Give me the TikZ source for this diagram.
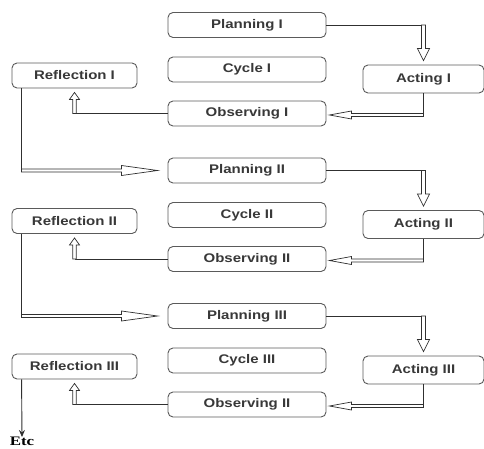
\documentclass[tikz,border=0pt]{standalone}
\usepackage{fontspec}
\usepackage{tikz}
\usetikzlibrary{calc}
\usetikzlibrary{arrows.meta}
\newfontfamily\boxfont[FakeStretch=1.2]{Liberation Sans}
\newfontfamily\etcfont[FakeStretch=1.3]{Liberation Serif}
\definecolor{boxgray}{HTML}{5A5A5A}
\definecolor{textgray}{HTML}{383838}
\definecolor{linegray}{HTML}{303030}

% hollow double arrow: from, to, shaft half width, head half width, head length
\newcommand{\hollowarrow}[5]{%
  \coordinate (ha-c) at ($(#2)!#5!(#1)$);
  \filldraw[arrowline,fill=white] ($(#1)!#3!90:(#2)$) -- ($(ha-c)!#3!90:(#2)$)
    -- ($(ha-c)!#4!90:(#2)$) -- (#2) -- ($(ha-c)!#4!-90:(#2)$)
    -- ($(ha-c)!#3!-90:(#2)$) -- ($(#1)!#3!-90:(#2)$) -- cycle;
}

\tikzset{
  stagebox/.style={draw=boxgray, line width=0.9pt, rounded corners=5pt, fill=white,
    minimum height=25pt, inner sep=0pt, text=textgray,
    font=\boxfont\bfseries\fontsize{12.5}{14}\selectfont},
  midbox/.style={stagebox, minimum width=158pt},
  reflbox/.style={stagebox, minimum width=125pt},
  actbox/.style={stagebox, minimum width=121pt, minimum height=28pt},
  arrowline/.style={draw=linegray, line width=0.7pt},
}

\begin{document}
\begin{tikzpicture}[x=1pt,y=-1pt]
  \useasboundingbox (0,0) rectangle (484,449);

  \foreach \i/\r/\o in {1/I/I, 2/II/II, 3/III/II}
  {
    \begin{scope}[shift={(0,{145.5*(\i-1)})}]
      \node[midbox]  (plan\i) at (247,25)    {Planning \r};
      \node[midbox]  (cyc\i)  at (247,69.5)  {Cycle \r};
      \node[reflbox] (refl\i) at (74.5,75.5) {Reflection \r};
      \node[actbox]  (act\i)  at (423.5,79)  {Acting \r};
      \node[midbox]  (obs\i)  at (247,113.5) {Observing \o};
    \end{scope}

    % planning -> acting
    \coordinate (pa\i) at (plan\i.east -| act\i.north);
    \coordinate (pt\i) at ($(act\i.north)+(0,-4)$);
    \draw[arrowline] (plan\i.east) -- (pa\i);
    \hollowarrow{pa\i}{pt\i}{2pt}{6pt}{12pt}

    % acting -> observing
    \coordinate (ao\i) at ($(act\i.south |- obs\i.east)+(0,1.5)$);
    \coordinate (at\i) at ($(obs\i.east)+(3,1.5)$);
    \draw[arrowline] (act\i.south) -- (ao\i);
    \hollowarrow{ao\i}{at\i}{1.5pt}{4pt}{22pt}

    % observing -> reflection
    \coordinate (or\i) at (obs\i.west -| refl\i.south);
    \coordinate (ot\i) at ($(refl\i.south)+(0,4)$);
    \draw[arrowline] (obs\i.west) -- (or\i);
    \hollowarrow{or\i}{ot\i}{1.7pt}{5pt}{7pt}

    \coordinate (r\i) at ($(refl\i.south west)+(10,0)$);
  }

  % reflection -> next planning
  \foreach \i/\j in {1/2, 2/3}
  {
    \coordinate (rp\i) at (r\i |- plan\j.west);
    \coordinate (rt\i) at ($(plan\j.west)+(-10,0)$);
    \draw[arrowline] (r\i) -- (rp\i);
    \hollowarrow{rp\i}{rt\i}{1.5pt}{5pt}{36pt}
  }

  \node[anchor=north, inner sep=0pt, font=\etcfont\bfseries\fontsize{13}{14}\selectfont]
    (etc) at (22,437) {Etc};
  \draw[arrowline, line width=0.9pt, -{Stealth[length=7pt,width=6pt]}] (r3) -- (etc.north);
\end{tikzpicture}
\end{document}
